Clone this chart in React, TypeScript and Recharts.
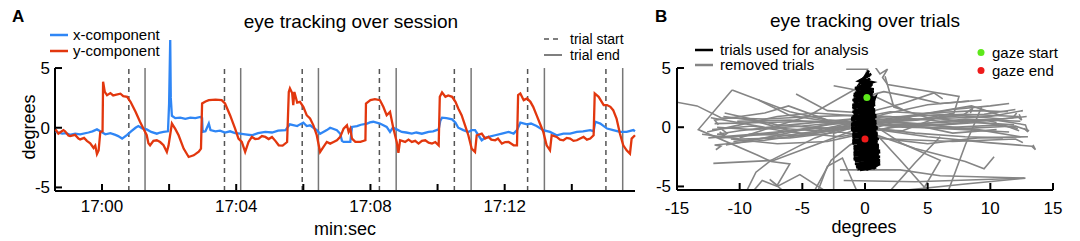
import React from 'react';
import { ComposedChart, Line, Scatter, XAxis, YAxis, ReferenceLine } from 'recharts';

const FONT = '"Liberation Sans", Arial, Helvetica, sans-serif';

// panel A: seconds relative to 17:00:00, gaze in degrees
const blueT = [-83, -71, -64, -57, -48, -39, -24, -17, -9, -3, 6, 15, 24, 29, 36, 45, 52, 60, 65, 72, 80, 88, 98, 104, 110, 118, 120, 122, 123, 125, 131, 140, 149, 158, 167, 176, 179, 180, 185, 191, 194, 203, 211, 220, 229, 238, 247, 256, 268, 279, 292, 304, 315, 328, 336, 349, 354, 360, 366, 372, 378, 384, 390, 402, 408, 420, 426, 429, 432, 444, 447, 456, 463, 474, 479, 485, 497, 509, 515, 520, 527, 536, 544, 554, 562, 572, 584, 592, 602, 605, 608, 616, 626, 632, 637, 646, 655, 661, 667, 673, 679, 685, 691, 703, 715, 727, 736, 742, 748, 760, 767, 777, 789, 801, 813, 825, 837, 849, 860, 873, 879, 882, 891, 903, 914, 926, 938, 950, 953];
const blueV = [-0.35, -0.5, -0.45, -0.6, -0.5, -0.55, -0.4, -0.3, -0.14, -0.3, -0.55, -0.45, -0.6, -0.7, -0.91, -0.6, -0.3, 0.0, 0.14, -0.05, -0.14, -0.35, -0.5, -0.4, -0.35, -0.3, 2.0, 7.35, 2.5, 1.0, 0.8, 0.85, 0.75, 0.85, 0.8, 0.9, 0.8, -0.35, -0.3, 0.35, -0.2, -0.3, -0.25, -0.4, -0.3, -0.45, -0.5, -0.55, -0.63, -0.45, -0.35, -0.4, -0.25, -0.2, 0.28, 0.14, 0.28, 0.42, 0.14, 0.2, 0.0, -0.2, -0.5, -0.2, 0.0, -0.2, -0.5, -1.1, -1.19, -1.19, 0.07, 0.14, 0.25, 0.35, 0.45, 0.5, 0.35, 0.07, -0.35, 0.0, -0.14, -0.35, -0.4, -0.49, -0.4, -0.5, -0.35, -0.3, -0.14, 0.6, 0.84, 0.8, 0.7, 0.42, 0.0, -0.2, -0.35, -0.2, -0.2, -0.63, -1.05, -0.85, -0.77, -0.63, -0.49, -0.35, -0.49, -0.2, 0.42, 0.28, 0.35, 0.14, -0.2, -0.35, -0.63, -0.49, -0.49, -0.35, -0.3, -0.2, -0.3, 0.5, 0.35, -0.07, -0.2, -0.35, -0.35, -0.2, -0.3];

const redT = [-83, -78, -75, -69, -66, -60, -57, -48, -42, -39, -32, -27, -21, -15, -12, -9, -6, -3, 1, 2, 5, 9, 15, 20, 24, 33, 38, 45, 51, 60, 68, 74, 80, 83, 86, 92, 98, 104, 110, 116, 119, 125, 131, 137, 146, 155, 164, 173, 177, 179, 185, 191, 203, 214, 220, 229, 238, 244, 250, 256, 262, 268, 274, 280, 286, 292, 298, 304, 310, 316, 323, 331, 334, 336, 340, 342, 344, 349, 354, 360, 366, 372, 378, 384, 390, 396, 402, 408, 414, 420, 426, 432, 438, 441, 444, 447, 453, 462, 471, 472, 480, 488, 497, 503, 509, 515, 521, 527, 530, 533, 542, 548, 554, 560, 566, 572, 578, 584, 590, 596, 602, 604, 608, 614, 619, 626, 632, 637, 643, 649, 655, 661, 667, 670, 679, 685, 691, 696, 703, 708, 715, 721, 727, 736, 742, 744, 748, 754, 760, 766, 771, 777, 783, 789, 795, 801, 804, 813, 819, 825, 831, 837, 843, 849, 855, 861, 867, 873, 879, 881, 888, 897, 903, 909, 914, 920, 926, 932, 938, 944, 947, 953];
const redV = [-0.14, -0.5, -0.4, -0.2, -0.3, -0.65, -0.7, -0.6, -0.9, -0.98, -0.85, -1.1, -1.3, -1.7, -1.5, -2.2, -1.9, -0.35, -0.3, 3.85, 3.0, 2.73, 2.9, 2.7, 2.75, 2.85, 2.65, 2.59, 2.17, 1.33, 0.5, -0.07, -0.63, -1.3, -1.47, -1.1, -1.05, -1.2, -1.47, -2.03, -1.5, 0.35, -0.1, -0.63, -1.75, -2.45, -2.31, -2.0, -1.75, 2.03, 2.2, 2.31, 2.35, 2.31, 2.03, 1.05, -0.07, -0.91, -1.19, -2.03, -1.19, -0.77, -0.95, -0.91, -0.7, -0.77, -0.95, -0.77, -1.1, -1.47, -1.5, -1.2, 3.0, 3.3, 2.9, 1.9, 3.0, 2.1, 2.17, 1.75, 1.05, 0.77, 0.2, -0.63, -2.03, -1.61, -1.19, -1.33, -1.19, -1.05, -0.77, -0.07, 0.21, -0.35, -0.07, -0.91, -1.19, -1.19, -1.05, 2.03, 2.31, 2.4, 2.31, 1.75, 1.05, 1.33, -0.07, -1.19, -2.1, -1.05, -1.19, -1.0, -1.19, -1.1, -1.33, -1.1, -1.05, -1.25, -1.33, -1.2, -1.47, 2.59, 2.96, 2.59, 2.7, 2.59, 2.17, 1.61, 1.05, 0.21, -0.63, -1.75, -2.03, -0.63, -0.49, -0.9, -0.77, -1.0, -1.05, -0.9, -1.33, -1.2, -1.19, -1.47, -1.47, 2.73, 2.87, 2.31, 2.45, 2.17, 1.75, 1.05, 0.35, -0.35, -1.47, -1.89, -0.63, -0.77, -1.0, -1.05, -0.85, -0.91, -1.1, -1.05, -0.9, -0.77, -1.0, -0.91, -0.63, 2.87, 2.59, 1.89, 1.9, 1.75, 1.47, 0.77, -0.49, -1.47, -1.89, -2.17, -0.91, -0.63];

const trialStart = [48, 219, 358, 496, 630, 761, 901];
const trialEnd = [77, 248, 387, 526, 660, 791, 931];
const timeTicks = [0, 120, 240, 360, 480, 600, 720, 840];
const degTicksY = [-5, 0, 5];

// panel B: gaze traces [x, y] in degrees
const removedTrials: number[][][] = [
  [[-11.6, -0.4], [-11.2, -0.7], [-11.8, -0.6], [-10, -0.3], [-6, 0.2], [-2, 0.6], [0, 0.8], [3, 0.9], [8, 1.1], [12.2, 0.9], [12.5, 0.6], [12.3, 1.1]],
  [[-12.0, 0.3], [-8, 0.4], [-4, 0.5], [-0.5, 0.3], [2, 0.2], [6, 0.4], [10.5, 0.6], [12.8, 0.2], [13.0, -0.4], [12.7, -0.1]],
  [[-12.5, -0.9], [-9, -0.6], [-5, -0.2], [-1, 0.1], [1, 0.6], [5, 1.2], [9, 1.4], [11.4, 1.3]],
  [[-10.5, -1.2], [-7, -0.8], [-3, -0.2], [0, 0.5], [4, 0.3], [9, -0.2], [12.4, -0.8]],
  [[-11.9, -1.9], [-11.5, -1.6], [-12, -1.5], [-8, -1.1], [-4, -0.5], [0, 0.2], [3, 0.8], [7, 1.5], [10, 1.8], [11.5, 2.0]],
  [[-15.5, 2.2], [-13.4, 1.8], [-11.5, 0.8], [-8, 0.7], [-4, 0.9], [-1, 1.0], [2, 0.9], [6, 0.5], [9.6, 0.6], [10.5, 0.4]],
  [[-10.6, 3.15], [-13.3, -0.2], [-8.6, -2.35], [-7.5, -2.9], [-6, -3.1], [-7.0, -4.9], [-7.6, -4.4], [-6.4, -5.5]],
  [[-10.6, 3.15], [-6, 1.3], [-3, 0.6], [0, 0.3], [3, 0.0], [8, -0.1], [12, 0.1], [13.1, -0.3]],
  [[-11.2, 1.2], [-7, 0.2], [-3, -0.1], [0, 0.0], [4, -0.5], [8, -0.8], [11, -0.9]],
  [[-9.5, -5.5], [-8.7, -3.8], [-7.5, -2.8], [-4, -0.9], [-1, 0.2], [1.5, 1.1], [5, 1.9], [9.3, 2.3]],
  [[-11.7, 0.2], [-12.0, 0.6], [-8, 1.2], [-6.1, 1.8], [-3, 0.6], [0, 0.4], [4, 0.6], [7.8, 1.0], [8.6, 1.6], [8.4, 1.2]],
  [[-1.5, 4.9], [0.2, 4.9], [-0.3, 3.5], [-4.6, 0.9], [-8, -0.2], [-10, -0.9]],
  [[0.8, 5.1], [1.2, 4.5], [1.8, 4.9], [1.4, 4.2], [1.8, 3.6], [7.5, 2.6], [7.1, 1.2], [4, 0.6], [0, 0.4]],
  [[1.6, 4.3], [2.3, 1.7], [5, 0.8], [10, 0.3], [12.2, -0.1]],
  [[-12.1, -3.05], [-7.3, -2.8], [-4, -1.5], [-1, -0.3], [1, -0.2], [5, -0.8], [9.8, -1.3], [13.3, -1.6], [13.6, -1.9], [13.4, -1.5]],
  [[-2.5, -5.5], [-2.5, -0.5], [0, 0.3], [3, 0.8]],
  [[-4.1, -5.5], [-2.7, -2.8], [-1.2, -1.5], [0.5, -0.5], [4, -1.8], [8.0, -2.9], [9.5, -3.5], [10.3, -2.5]],
  [[-2.0, -3.6], [2.8, -3.6], [6, -4.1], [12.8, -4.3], [8, -4.8], [1.5, -5.5]],
  [[1.0, -0.7], [3, -3], [5.1, -5.5]],
  [[6.0, -0.8], [4, -3], [1.9, -5.5]],
  [[9.3, 1.7], [8, -1.5], [6.6, -5.5]],
  [[-1.7, -4.5], [4, -4.6], [12.7, -4.3]],
  [[0.5, 0.3], [3, -1.4], [6, -2.8], [4.5, -5.5]],
  [[-9.0, -5.5], [-8.2, -4.5], [-7, -5.0], [-5.2, -4.0], [-3, -5.5]],
  [[-3.8, -5.5], [-3, -3.3], [-1.8, -2.6], [-0.6, -5.5]],
  [[2, -1], [7, -1.2], [12, -1.0], [12.6, -1.3]],
  [[-11.8, 0.0], [-9, -0.2], [-5, 0.1], [-1, 0.5], [1.5, 0.2], [6, -0.1], [11.5, -0.4]],
  [[-12.2, -0.2], [-9, 0.1], [-6, -0.4], [-2, -0.8], [0, -0.4], [3, 0.1], [8, 0.7], [12.4, 0.5]],
  [[-10.7, -1.0], [-7, -1.4], [-3, -1.2], [0, -0.5], [2, 0], [7, 0.3], [11.8, 0.8], [12.1, 1.2]],
  [[-0.3, 2.5], [1.5, 3.0], [4, 2.5], [6, 2.0], [8.3, 2.2]],
  [[-2.5, 3.5], [0, 3.0], [3, 1.5]],
  [[-8.5, 2.3], [-6, 1.0], [-3, 0.5]],
  [[-11.4, -0.2], [-11.0, -0.5], [-11.5, -0.9], [-7, -0.5], [-3, 0.2], [0, 0.6], [5, 0.7], [10, 0.9], [12.6, 1.4]],
  [[-12.3, 0.8], [-8, 0.0], [-4, -0.3], [-1, 0.4], [2, 0.5], [7, 0.0], [11, 0.2], [12.3, -0.3]],
  [[-10.2, 0.5], [-6, 0.6], [-2, 0.3], [1, 0.0], [4, 1.0], [8.5, 1.8], [10.8, 1.0]],
  [[-11.1, -1.5], [-8, -0.9], [-4, 0.0], [-1, 0.7], [2, 1.3], [6, 1.1], [11, 0.7], [12.9, 0.9]],
  [[-9.3, -0.6], [-5, -0.7], [-2, -0.1], [1, 0.3], [5, 0.1], [9, 0.4], [11.9, 0.2]],
  [[-12.6, -0.4], [-10, 0.2], [-7, 0.9], [-4, 1.2], [0, 0.9], [3, 0.4], [7, -0.5], [10.5, -0.2]],
  [[-11.3, 0.9], [-9, 0.6], [-5, -0.6], [-1, -0.1], [3, -0.3], [6, 0.9], [9.5, 1.1], [12, 1.5]],
  [[-5.5, 2.8], [-3, 1.4], [0, 1.2], [3, 2.0], [5.5, 2.9], [6.2, 2.4]],
  [[-13.0, -0.6], [-10, -1.0], [-6, -0.9], [-2, -0.4], [1, -0.9], [5, -1.4], [9, -0.9], [13.0, -0.8]],
];

const usedTrials: number[][][] = [
  [[0.3, 4.8], [0.1, 4.3], [0.5, 4.5], [-0.3, 4.0], [0.6, 3.8], [-0.6, 3.4], [0.7, 3.2], [-0.8, 2.9], [0.6, 2.7], [-0.9, 2.4], [0.8, 2.2], [-1.0, 1.9], [0.7, 1.7], [-0.9, 1.4], [0.8, 1.2], [-1.0, 0.9], [0.8, 0.7], [-1.0, 0.4], [0.9, 0.2], [-1.1, -0.1], [0.9, -0.3], [-1.0, -0.6], [1.0, -0.8], [-1.0, -1.1], [1.0, -1.3], [-0.9, -1.6], [1.1, -1.8], [-0.9, -2.1], [1.1, -2.3], [-0.9, -2.6], [1.2, -2.8], [-0.8, -3.1], [1.0, -3.2], [-0.6, -3.5], [0.4, -3.3], [0.8, -3.5]],
  [[0.2, 4.6], [-0.4, 3.7], [0.4, 4.1], [-0.7, 3.1], [0.5, 3.5], [-0.9, 2.6], [0.6, 2.9], [-0.9, 2.1], [0.7, 2.4], [-1.0, 1.6], [0.8, 1.9], [-0.9, 1.1], [0.8, 1.4], [-1.1, 0.6], [0.9, 0.9], [-1.1, 0.1], [0.9, 0.4], [-1.0, -0.4], [1.0, -0.1], [-1.0, -0.9], [1.0, -0.6], [-1.0, -1.4], [1.0, -1.1], [-0.9, -1.9], [1.1, -1.6], [-0.9, -2.4], [1.2, -2.1], [-0.8, -2.9], [1.1, -2.6], [-0.7, -3.4], [1.2, -3.1], [0.1, -3.6]],
  [[0.4, 4.4], [-0.5, 3.9], [0.6, 3.6], [-0.8, 3.3], [0.7, 3.0], [-0.9, 2.8], [0.7, 2.5], [-1.0, 2.3], [0.8, 2.0], [-1.0, 1.8], [0.8, 1.5], [-1.0, 1.3], [0.9, 1.0], [-1.1, 0.8], [0.9, 0.5], [-1.1, 0.3], [1.0, 0.0], [-1.1, -0.2], [1.0, -0.5], [-1.0, -0.7], [1.1, -1.0], [-1.0, -1.2], [1.1, -1.5], [-0.9, -1.7], [1.2, -2.0], [-0.9, -2.2], [1.2, -2.5], [-0.9, -2.7], [1.2, -3.0], [-0.7, -3.2], [0.9, -3.4], [-0.4, -3.6]],
  [[0.0, 4.2], [-0.2, 2.0], [0.3, 3.0], [-0.5, 0.5], [0.4, 1.5], [-0.3, -1.0], [0.5, 0.0], [-0.4, -2.5], [0.6, -1.5], [0.0, -3.4], [0.2, -2.0]],
  [[-0.5, 3.0], [0.5, -3.0], [-0.7, -2.0], [0.8, 2.5], [-0.8, 1.0], [0.9, -2.5], [-0.3, -3.5], [0.7, -3.4]],
  [[-0.2, 3.8], [0.3, 1.0], [-0.6, 2.0], [0.2, -0.5], [-0.7, 0.0], [0.4, -2.2], [-0.5, -1.5], [0.3, -3.5]],
];

const gazeStart = [{ x: 0.15, y: 2.5 }];
const gazeEnd = [{ x: 0.0, y: -1.0 }];
const degTicksX = [-15, -10, -5, 0, 5, 10, 15];

const blueData = blueT.map((t, i) => ({ t, v: blueV[i] }));
const redData = redT.map((t, i) => ({ t, v: redV[i] }));
const toXY = (tr: number[][]) => tr.map(([x, y]) => ({ x, y }));

const fmtTime = (t: number) => {
  const m = Math.floor(t / 60);
  return `17:${String(m).padStart(2, '0')}`;
};

const XTickA = (props: any) => {
  const { x, y, payload } = props;
  const v = payload.value;
  return (
    <g>
      <line x1={x} x2={x} y1={y} y2={y - 7} stroke="#000" strokeWidth={2} />
      {v % 240 === 0 && (
        <text x={x} y={y + 20.5} textAnchor="middle" fontSize={17} fill="#000" fontFamily={FONT}>{fmtTime(v)}</text>
      )}
    </g>
  );
};

const XTickB = (props: any) => {
  const { x, y, payload } = props;
  return (
    <g>
      <line x1={x} x2={x} y1={y} y2={y - 7} stroke="#000" strokeWidth={2} />
      <text x={x} y={y + 24} textAnchor="middle" fontSize={17} fill="#000" fontFamily={FONT}>{payload.value}</text>
    </g>
  );
};

const YTick = (gap: number) => (props: any) => {
  const { x, y, payload } = props;
  return (
    <g>
      <line x1={x} x2={x + 7} y1={y} y2={y} stroke="#000" strokeWidth={2} />
      <text x={x - gap} y={y + 6} textAnchor="end" fontSize={17} fill="#000" fontFamily={FONT}>{payload.value}</text>
    </g>
  );
};

export default function App() {
  return (
    <div style={{ position: 'absolute', left: 0, top: 0, width: 1080, height: 241, background: '#fff', fontFamily: FONT }}>
      <div style={{ position: 'absolute', left: 0, top: 0 }}>
        <ComposedChart width={660} height={241} margin={{ top: 37, right: 25, bottom: 0, left: 0 }}>
          <XAxis dataKey="t" type="number" domain={[-84, 953]} ticks={timeTicks} tick={XTickA}
            tickSize={0} tickMargin={0} height={50} axisLine={{ stroke: '#000', strokeWidth: 2 }} tickLine={false} />
          <YAxis dataKey="v" type="number" domain={[-5.3, 7.6]} ticks={degTicksY} tick={YTick(5)}
            tickSize={0} tickMargin={0} width={55} axisLine={false} tickLine={false} />
          <ReferenceLine segment={[{ x: -84, y: -5.3 }, { x: -84, y: 5 }]} stroke="#000" strokeWidth={2} />
          {trialStart.map((t) => (
            <ReferenceLine key={`s${t}`} segment={[{ x: t, y: -5.3 }, { x: t, y: 5 }]} stroke="#555" strokeWidth={1.5} strokeDasharray="5 4" />
          ))}
          {trialEnd.map((t) => (
            <ReferenceLine key={`e${t}`} segment={[{ x: t, y: -5.3 }, { x: t, y: 5 }]} stroke="#777" strokeWidth={1.5} />
          ))}
          <Line data={blueData} dataKey="v" type="linear" stroke="#2f86f5" strokeWidth={2.3} dot={false} isAnimationActive={false} />
          <Line data={redData} dataKey="v" type="linear" stroke="#e2370e" strokeWidth={2.3} dot={false} isAnimationActive={false} />
        </ComposedChart>
      </div>
      <div style={{ position: 'absolute', left: 622, top: 0 }}>
        <ComposedChart width={458} height={241} margin={{ top: 68, right: 27, bottom: 0, left: 0 }}>
          <XAxis dataKey="x" type="number" domain={[-15, 15]} allowDataOverflow ticks={degTicksX} tick={XTickB}
            tickSize={0} tickMargin={0} height={51} axisLine={{ stroke: '#000', strokeWidth: 2 }} tickLine={false} />
          <YAxis dataKey="y" type="number" domain={[-5.3, 5]} allowDataOverflow ticks={degTicksY} tick={YTick(6)}
            tickSize={0} tickMargin={0} width={55} axisLine={{ stroke: '#000', strokeWidth: 2 }} tickLine={false} />
          {removedTrials.map((tr, i) => (
            <Line key={`r${i}`} data={toXY(tr)} dataKey="y" type="linear" stroke="#858585" strokeWidth={1.6} dot={false} isAnimationActive={false} />
          ))}
          {usedTrials.map((tr, i) => (
            <Line key={`u${i}`} data={toXY(tr)} dataKey="y" type="linear" stroke="#000" strokeWidth={2.6} dot={false} isAnimationActive={false} />
          ))}
          <Scatter data={gazeStart} dataKey="y" isAnimationActive={false}
            shape={(p: any) => <circle cx={p.cx} cy={p.cy} r={3.5} fill="#5de81a" />} />
          <Scatter data={gazeEnd} dataKey="y" isAnimationActive={false}
            shape={(p: any) => <circle cx={p.cx} cy={p.cy} r={3.5} fill="#ee1a1a" />} />
        </ComposedChart>
      </div>
      <svg width={1080} height={241} style={{ position: 'absolute', left: 0, top: 0, pointerEvents: 'none' }} fontFamily={FONT}>
        <text x={12} y={22} fontSize={17} fontWeight="bold">A</text>
        <text x={351} y={28} fontSize={19} textAnchor="middle">eye tracking over session</text>
        <line x1={50} x2={68} y1={35} y2={35} stroke="#2f86f5" strokeWidth={2.5} />
        <text x={73} y={40} fontSize={15}>x-component</text>
        <line x1={50} x2={68} y1={51} y2={51} stroke="#e2370e" strokeWidth={2.5} />
        <text x={73} y={56} fontSize={15}>y-component</text>
        <line x1={544} x2={562} y1={39} y2={39} stroke="#555" strokeWidth={1.5} strokeDasharray="5 4" />
        <text x={570} y={43.5} fontSize={14}>trial start</text>
        <line x1={544} x2={562} y1={55} y2={55} stroke="#555" strokeWidth={1.5} />
        <text x={570} y={59.5} fontSize={14}>trial end</text>
        <text transform="translate(29,127) rotate(-90)" fontSize={18} textAnchor="middle" dominantBaseline="central">degrees</text>
        <text x={345} y={235} fontSize={18} textAnchor="middle">min:sec</text>

        <text x={655} y={22} fontSize={17} fontWeight="bold">B</text>
        <text x={865} y={27} fontSize={19} textAnchor="middle">eye tracking over trials</text>
        <line x1={695} x2={713} y1={50} y2={50} stroke="#000" strokeWidth={2.5} />
        <text x={720} y={55} fontSize={15}>trials used for analysis</text>
        <line x1={695} x2={713} y1={65} y2={65} stroke="#858585" strokeWidth={2.5} />
        <text x={720} y={70} fontSize={15}>removed trials</text>
        <circle cx={981} cy={52.5} r={3.5} fill="#5de81a" />
        <text x={992} y={57.5} fontSize={15}>gaze start</text>
        <circle cx={981} cy={70.5} r={3.5} fill="#ee1a1a" />
        <text x={992} y={75.5} fontSize={15}>gaze end</text>
        <text x={864} y={233} fontSize={18} textAnchor="middle">degrees</text>
      </svg>
    </div>
  );
}
